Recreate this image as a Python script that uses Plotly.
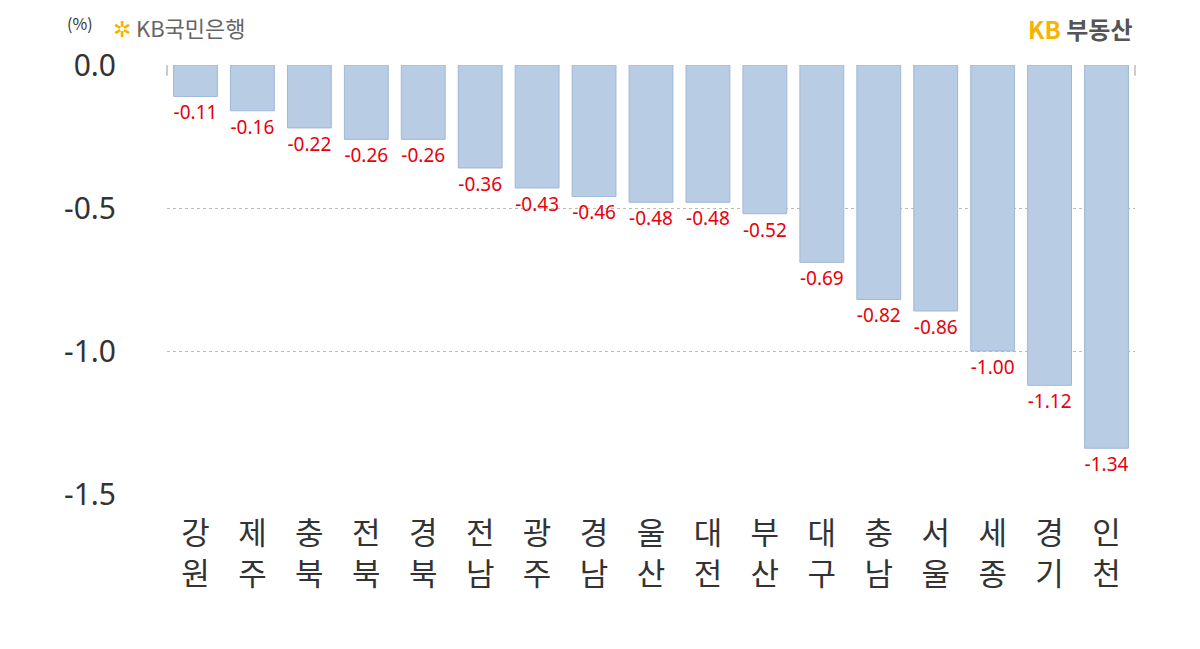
import plotly.graph_objects as go

regions = ["강원","제주","충북","전북","경북","전남","광주","경남","울산","대전","부산","대구","충남","서울","세종","경기","인천"]
values = [-0.11,-0.16,-0.22,-0.26,-0.26,-0.36,-0.43,-0.46,-0.48,-0.48,-0.52,-0.69,-0.82,-0.86,-1.00,-1.12,-1.34]
labels = [f"{v:.2f}" for v in values]
ticks = [0.0,-0.5,-1.0,-1.5]

fig = go.Figure(go.Bar(
    x=list(range(len(regions))), y=values, text=labels, textposition="outside",
    textfont=dict(color="#e8000b", size=21, family="Noto Sans"),
    marker=dict(color="#b8cce4", line=dict(color="#9fb7d8", width=1)),
    width=0.77, cliponaxis=False))
fig.update_layout(
    width=1200, height=649, plot_bgcolor="white", paper_bgcolor="white",
    margin=dict(l=159, r=73, t=57, b=163, autoexpand=False), showlegend=False,
    font=dict(family="Noto Sans CJK KR"),
    xaxis=dict(tickvals=list(range(len(regions))), ticktext=[r[0]+"<br>"+r[1] for r in regions],
               tickfont=dict(size=31, color="#333"), range=[-0.5, len(regions)-0.5], showline=False,
               ticks="outside", ticklen=12, tickcolor="rgba(0,0,0,0)"),
    yaxis=dict(range=[-1.5, 0], tickvals=ticks, ticktext=[f"{t:.1f}" for t in ticks],
               tickfont=dict(size=30, color="#333", family="Noto Sans"), showgrid=True,
               gridcolor="#bbb", griddash="dot", zeroline=False, ticklabelstandoff=50),
)
fig.add_shape(type="line", xref="paper", yref="paper", x0=0, x1=0, y0=1, y1=0.975, line=dict(color="#999", width=1))
fig.add_shape(type="line", xref="paper", yref="paper", x0=1, x1=1, y0=1, y1=0.975, line=dict(color="#999", width=1))
fig.add_annotation(xref="paper", yref="paper", x=-0.105, y=1.13, text="(%)", showarrow=False, xanchor="left",
                   font=dict(size=16, color="#333"))
fig.add_annotation(xref="paper", yref="paper", x=-0.058, y=1.13, text="<span style='color:#f5b400'>✲</span> KB국민은행",
                   showarrow=False, xanchor="left", font=dict(size=22, color="#666"))
fig.add_annotation(xref="paper", yref="paper", x=1.0, y=1.13, text="<b><span style='color:#f5b400'>KB</span> 부동산</b>",
                   showarrow=False, xanchor="right", font=dict(size=24, color="#555"))
fig.write_html("out.html")
